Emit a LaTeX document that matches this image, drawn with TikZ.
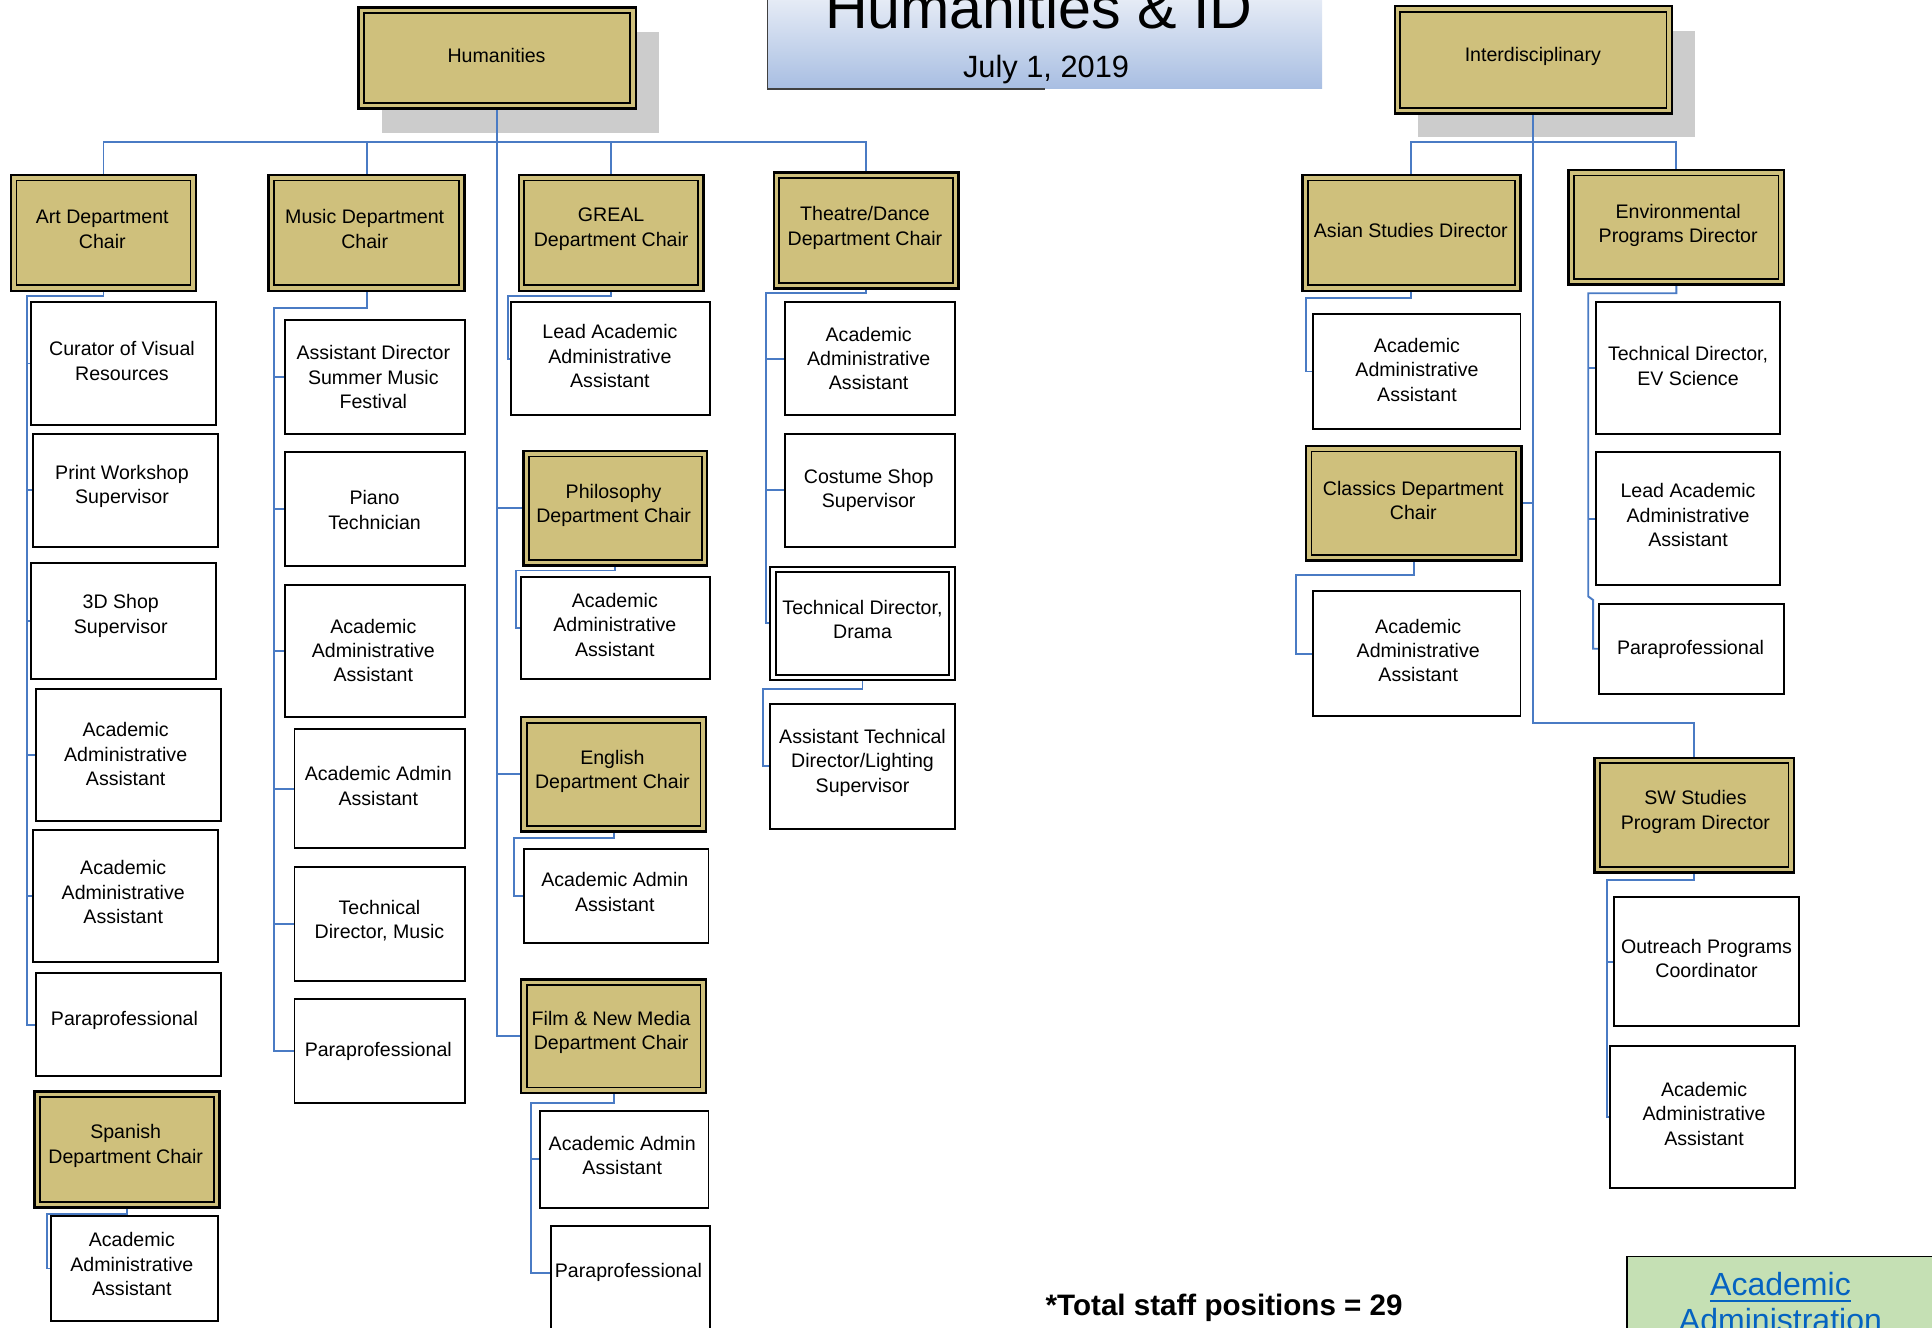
\documentclass[tikz,border=0pt]{standalone}
\usepackage{fontspec}
\setmainfont{Liberation Sans}
\usetikzlibrary{calc}
\definecolor{gold}{HTML}{CFC07C}
\definecolor{connblue}{HTML}{4A7BC4}
\definecolor{shadowgray}{HTML}{CCCCCC}
\definecolor{greenbox}{HTML}{C5E0B4}
\definecolor{linkblue}{HTML}{0563C1}
\definecolor{titletop}{HTML}{E9EEF7}
\definecolor{titlebot}{HTML}{A8BEE2}
\pgfdeclarelayer{bg}
\pgfsetlayers{bg,main}
\tikzset{
  wbox/.style={draw=black, fill=white, line width=1.6pt, inner sep=0pt, outer sep=0pt},
  gbox/.style={draw=black, fill=gold, line width=2pt, inner sep=0pt, outer sep=0pt,
    path picture={\draw[line width=1.4pt] ([shift={(4.5pt,4.5pt)}]path picture bounding box.south west) rectangle ([shift={(-4.5pt,-4.5pt)}]path picture bounding box.north east);}},
  dbox/.style={draw=black, fill=white, line width=1.5pt, inner sep=0pt, outer sep=0pt,
    path picture={\draw[line width=1.5pt] ([shift={(4.5pt,4.5pt)}]path picture bounding box.south west) rectangle ([shift={(-4.5pt,-4.5pt)}]path picture bounding box.north east);}},
  txt/.style={font=\fontsize{15.9}{19.8}\selectfont, align=center, inner sep=0pt},
  link/.style={draw=connblue, line width=1.6pt},
}
\newcommand\OrgBox[9]{%
  \node[#1, minimum width={(#5-#3)*1pt}, minimum height={(#6-#4)*1pt}] (#2) at ({(#3+#5)/2},{(#4+#6)/2}) {};
  \node[txt] (#2-t) at (#7,#8) {#9};}
\begin{document}
\begin{tikzpicture}[x=1pt,y=-1pt]
\useasboundingbox (0,0) rectangle (1568,1077);
\clip (0,0) rectangle (1568,1077);

% title
\shade[top color=titletop, bottom color=titlebot] (623,-5) rectangle (1073,72);
\draw[line width=1.3pt, black!75] (623,-5) -- (623,72) -- (848,72);
\node[font=\fontsize{48}{50}\selectfont, anchor=base, inner sep=0pt] (title) at (843,23.5) {Humanities \& ID};
\node[font=\fontsize{25}{28}\selectfont, anchor=base, inner sep=0pt] (date) at (849,62.5) {July 1, 2019};

% top boxes
\OrgBox{gbox}{hum}{291}{6}{516}{88}{403}{45}{Humanities}
\OrgBox{gbox}{inter}{1132}{5}{1357}{92}{1244}{46}{Interdisciplinary}

% department row
\OrgBox{gbox}{art}{9}{142}{159}{236}{83}{186}{Art Department\\Chair}
\OrgBox{gbox}{music}{218}{142}{377}{236}{296}{186}{Music Department\\Chair}
\OrgBox{gbox}{greal}{421}{142}{571}{236}{496}{186}{GREAL\\Department Chair}
\OrgBox{gbox}{theatre}{628}{140}{778}{234}{702}{185}{Theatre/Dance\\Department Chair}

% art column
\OrgBox{wbox}{curator}{25}{245}{175}{345}{99}{293}{Curator of Visual\\Resources}
\OrgBox{wbox}{print}{27}{352}{177}{444}{99}{395}{Print Workshop\\Supervisor}
\OrgBox{wbox}{shop}{25}{457}{175}{551}{98}{500}{3D Shop\\Supervisor}
\OrgBox{wbox}{artaaa}{29}{559}{179}{666}{102}{612}{Academic\\Administrative\\Assistant}
\OrgBox{wbox}{artaab}{27}{674}{177}{781}{100}{724}{Academic\\Administrative\\Assistant}
\OrgBox{wbox}{artpara}{29}{790}{179}{873}{101}{828}{Paraprofessional}
\OrgBox{gbox}{spanish}{28}{886}{178}{980}{102}{930}{Spanish\\Department Chair}
\OrgBox{wbox}{spanaaa}{41}{987}{177}{1072}{107}{1026}{Academic\\Administrative\\Assistant}

% music column
\OrgBox{wbox}{summer}{231}{260}{377}{352}{303}{306}{Assistant Director\\Summer Music\\Festival}
\OrgBox{wbox}{piano}{231}{367}{377}{459}{304}{414}{Piano\\Technician}
\OrgBox{wbox}{musaaa}{231}{475}{377}{582}{303}{528}{Academic\\Administrative\\Assistant}
\OrgBox{wbox}{musaa}{239}{592}{377}{688}{307}{638}{Academic Admin\\Assistant}
\OrgBox{wbox}{mustd}{239}{704}{377}{796}{308}{747}{Technical\\Director, Music}
\OrgBox{wbox}{muspara}{239}{811}{377}{895}{307}{853}{Paraprofessional}

% GREAL column
\OrgBox{wbox}{greallead}{415}{245}{576}{337}{495}{289}{Lead Academic\\Administrative\\Assistant}
\OrgBox{gbox}{phil}{425}{366}{574}{459}{498}{410}{Philosophy\\Department Chair}
\OrgBox{wbox}{philaaa}{423}{468}{576}{551}{499}{507}{Academic\\Administrative\\Assistant}
\OrgBox{gbox}{english}{423}{582}{573}{675}{497}{626}{English\\Department Chair}
\OrgBox{wbox}{engaa}{425}{689}{575}{765}{499}{724}{Academic Admin\\Assistant}
\OrgBox{gbox}{film}{423}{795}{573}{887}{496}{838}{Film \& New Media\\Department Chair}
\OrgBox{wbox}{filmaa}{438}{902}{575}{980}{505}{938}{Academic Admin\\Assistant}
\OrgBox{wbox}{filmpara}{447}{995}{576}{1095}{510}{1033}{Paraprofessional}

% theatre column
\OrgBox{wbox}{thaaa}{637}{245}{775}{337}{705}{291}{Academic\\Administrative\\Assistant}
\OrgBox{wbox}{costume}{637}{352}{775}{444}{705}{398}{Costume Shop\\Supervisor}
\OrgBox{dbox}{tddrama}{625}{460}{775}{552}{700}{503}{Technical Director,\\Drama}
\OrgBox{wbox}{asttd}{625}{571}{775}{673}{700}{619}{Assistant Technical\\Director/Lighting\\Supervisor}

% interdisciplinary
\OrgBox{gbox}{asian}{1057}{142}{1234}{236}{1145}{187}{Asian Studies Director}
\OrgBox{gbox}{env}{1273}{138}{1448}{231}{1362}{183}{Environmental\\Programs Director}
\OrgBox{wbox}{asaaa}{1066}{255}{1234}{348}{1150}{300}{Academic\\Administrative\\Assistant}
\OrgBox{gbox}{classics}{1060}{362}{1235}{455}{1147}{406}{Classics Department\\Chair}
\OrgBox{wbox}{claaa}{1066}{480}{1234}{581}{1151}{528}{Academic\\Administrative\\Assistant}
\OrgBox{wbox}{tdev}{1295}{245}{1445}{352}{1370}{297}{Technical Director,\\EV Science}
\OrgBox{wbox}{envlead}{1295}{367}{1445}{475}{1370}{418}{Lead Academic\\Administrative\\Assistant}
\OrgBox{wbox}{envpara}{1298}{490}{1448}{563}{1372}{527}{Paraprofessional}
\OrgBox{gbox}{sw}{1294}{615}{1456}{708}{1376}{659}{SW Studies\\Program Director}
\OrgBox{wbox}{outreach}{1310}{728}{1460}{833}{1385}{778}{Outreach Programs\\Coordinator}
\OrgBox{wbox}{swaaa}{1307}{849}{1457}{964}{1383}{904}{Academic\\Administrative\\Assistant}

% footer
\node[font=\bfseries\fontsize{24}{28}\selectfont, anchor=base, inner sep=0pt] (total) at (993.5,1068) {*Total staff positions = 29};
\node[draw=black, fill=greenbox, line width=1.5pt, minimum width=300pt, minimum height=100pt, anchor=north west, inner sep=0pt] (acad) at (1320,1019) {};
\node[font=\fontsize{26}{30}\selectfont, text=linkblue, anchor=base, inner sep=0pt] (acad1) at (1445,1051) {Academic};
\node[font=\fontsize{26}{30}\selectfont, text=linkblue, anchor=base, inner sep=0pt] (acad2) at (1445,1081) {Administration};
\draw[linkblue, line width=1.6pt] ([yshift=-4.5pt]acad1.base west) -- ([yshift=-4.5pt]acad1.base east);

% connectors
\begin{pgfonlayer}{bg}
\fill[shadowgray] (310,26) rectangle (535,108);
\fill[shadowgray] (1151,25) rectangle (1376,111);
\coordinate (hb) at (403.5,115);
\coordinate (ib) at (1244.5,115);
\coordinate (aL) at (22,240);
\coordinate (sL) at (38,985);
\coordinate (mL) at (222,250);
\coordinate (gL) at (412,240);
\coordinate (pL) at (419,463);
\coordinate (enL) at (417,680);
\coordinate (fL) at (431,895);
\coordinate (tL) at (622,238);
\coordinate (tdL) at (619,559);
\coordinate (asL) at (1060,242);
\coordinate (clL) at (1052,467);
\coordinate (eL) at (1289,238);
\coordinate (eJ) at (1289,484);
\coordinate (eJ2) at (1293,487);
\coordinate (swL) at (1304,714);
\coordinate (swbus) at (1375,587);

% humanities
\draw[link] (art.north) |- (hb) -| (theatre.north);
\draw[link] (music.north) -- (music.north |- hb);
\draw[link] (greal.north) -- (greal.north |- hb);
\draw[link] (hum.south) |- (film.west);
\draw[link] (phil.west) -- (phil.west -| hum.south);
\draw[link] (english.west) -- (english.west -| hum.south);
% art
\draw[link] (art.south) |- (aL) |- (artpara.west);
\foreach \n in {curator,print,shop,artaaa,artaab} \draw[link] (\n.west) -- (\n.west -| aL);
\draw[link] (spanish.south) |- (sL) |- (spanaaa.west);
% music
\draw[link] (music.south) |- (mL) |- (muspara.west);
\foreach \n in {summer,piano,musaaa,musaa,mustd} \draw[link] (\n.west) -- (\n.west -| mL);
% greal
\draw[link] (greal.south) |- (gL) |- (greallead.west);
\draw[link] (phil.south) |- (pL) |- (philaaa.west);
\draw[link] (english.south) |- (enL) |- (engaa.west);
\draw[link] (film.south) |- (fL) |- (filmpara.west |- filmpara-t.center);
\draw[link] (filmaa.west) -- (filmaa.west -| fL);
% theatre
\draw[link] (theatre.south) |- (tL) |- (tddrama.west);
\foreach \n in {thaaa,costume} \draw[link] (\n.west) -- (\n.west -| tL);
\draw[link] (tddrama.south) |- (tdL) |- (asttd.west);
% interdisciplinary
\draw[link] (asian.north) |- (ib) -| (env.north);
\draw[link] (inter.south) |- (swbus) -- (sw.north);
\draw[link] (classics.east) -- (classics.east -| inter.south);
\draw[link] (asian.south) |- (asL) |- (asaaa.west);
\draw[link] (classics.south) |- (clL) |- (claaa.west);
\draw[link] (env.south) |- (eL) -- (eJ) -- (eJ2) |- (envpara.west);
\foreach \n in {tdev,envlead} \draw[link] (\n.west) -- (\n.west -| eL);
\draw[link] (sw.south) |- (swL) |- (swaaa.west);
\draw[link] (outreach.west) -- (outreach.west -| swL);
\end{pgfonlayer}
\end{tikzpicture}
\end{document}
